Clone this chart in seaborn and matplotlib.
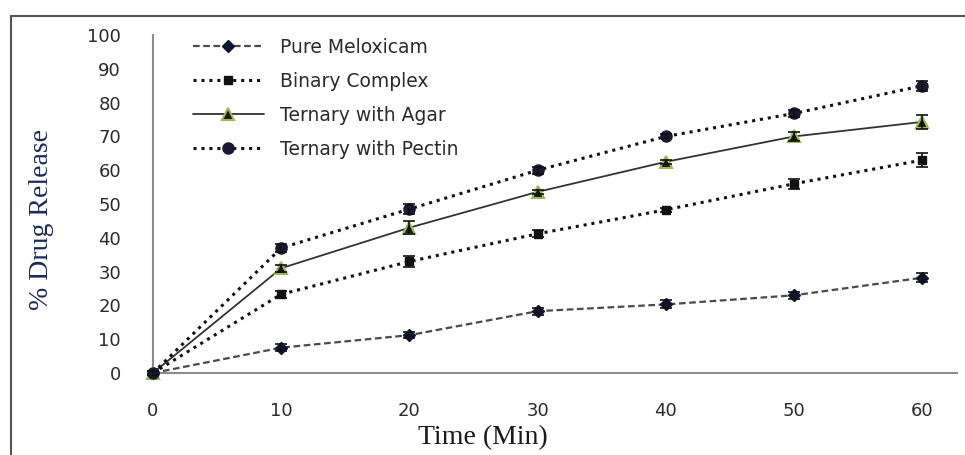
import numpy as np
import pandas as pd
import matplotlib
matplotlib.use("Agg")
import matplotlib.pyplot as plt
import seaborn as sns

# Dissolution data
time_min = [0, 10, 20, 30, 40, 50, 60]
pure_meloxicam = [0, 7.5, 11.2, 18.3, 20.3, 23.0, 28.2]
pure_err = [0.5, 1.0, 0.8, 1.0, 1.2, 1.0, 1.3]
binary_complex = [0, 23.3, 33.0, 41.2, 48.3, 56.0, 63.0]
binary_err = [0.5, 1.0, 1.5, 1.0, 0.6, 1.5, 2.0]
ternary_agar = [0, 31.0, 43.0, 53.6, 62.5, 70.0, 74.3]
agar_err = [0.5, 1.0, 2.0, 0.6, 0.6, 1.3, 2.0]
ternary_pectin = [0, 37.0, 48.5, 60.0, 70.0, 76.8, 85.0]
pectin_err = [0.5, 1.3, 1.5, 1.0, 0.6, 1.0, 1.5]

labels = ["Pure Meloxicam", "Binary Complex", "Ternary with Agar", "Ternary with Pectin"]
series = [pure_meloxicam, binary_complex, ternary_agar, ternary_pectin]
errors = [pure_err, binary_err, agar_err, pectin_err]

sns.set_style("white")
plt.rcParams["font.family"] = ["DejaVu Sans"]

styles = {
    "Pure Meloxicam": dict(color="#4a4a4a", ls=(0, (3, 1.6)), lw=1.6, marker="D",
                           mfc="#0f1433", mec="#0f1433", ms=6.5),
    "Binary Complex": dict(color="#111111", ls=(0, (1, 1.6)), lw=2.2, marker="s",
                           mfc="#111111", mec="#111111", ms=6),
    "Ternary with Agar": dict(color="#333333", ls="-", lw=1.3, marker="^",
                              mfc="#1a1a1a", mec="#9bbb59", ms=8, mew=1.5),
    "Ternary with Pectin": dict(color="#111111", ls=(0, (1, 1.6)), lw=2.2, marker="o",
                                mfc="#1b1733", mec="#1b1733", ms=8),
}

fig = plt.figure(figsize=(9.65, 4.55), dpi=100)
ax = fig.add_axes([0.1585, 0.1802, 0.8332, 0.7428])

for name, vals, err in zip(labels, series, errors):
    df = pd.DataFrame({"time": time_min, "release": vals})
    st = styles[name]
    sns.lineplot(data=df, x="time", y="release", ax=ax, color=st["color"],
                 linestyle=st["ls"], linewidth=st["lw"], marker=st["marker"],
                 markersize=st["ms"], markerfacecolor=st["mfc"],
                 markeredgecolor=st["mec"], markeredgewidth=st.get("mew", 1),
                 label=name, clip_on=False, zorder=3)
    ax.errorbar(time_min, vals, yerr=err, fmt="none", ecolor="#111111",
                elinewidth=1.2, capsize=4, capthick=1.2, clip_on=False, zorder=4)

ax.set_xlim(0, 62.7)
ax.set_ylim(0, 100)
ax.set_xticks(time_min)
ax.set_yticks(range(0, 101, 10))

for side in ["top", "right"]:
    ax.spines[side].set_visible(False)
for side in ["left", "bottom"]:
    ax.spines[side].set_color("#8c8c8c")
    ax.spines[side].set_linewidth(1.5)

ax.tick_params(axis="both", direction="out", length=5, width=1.2, color="#8c8c8c",
               labelsize=13, labelcolor="#2b2b2b")
ax.tick_params(axis="x", pad=16)
ax.tick_params(axis="y", pad=18)

ax.set_xlabel("Time (Min)", family="Liberation Serif", fontsize=20,
              color="#1a1a1a")
ax.xaxis.set_label_coords(0.41, -0.155)
ax.set_ylabel("% Drug Release", family="Liberation Serif", fontsize=20,
              color="#1c2a5a")
ax.yaxis.set_label_coords(-0.123, 0.453)

leg = ax.legend(loc="upper left", bbox_to_anchor=(0.0286, 1.042), frameon=False,
                fontsize=13.5, handlelength=3.8, labelspacing=0.8,
                handletextpad=0.85)
for t in leg.get_texts():
    t.set_color("#2b2b2b")

# outer frame of the picture
fig.add_artist(plt.Line2D([0.011, 1.0], [0.965, 0.965], color="#555555", lw=1.5))
fig.add_artist(plt.Line2D([0.011, 0.011], [0.0, 0.965], color="#555555", lw=1.5))

fig.savefig("out.png", dpi=100)
